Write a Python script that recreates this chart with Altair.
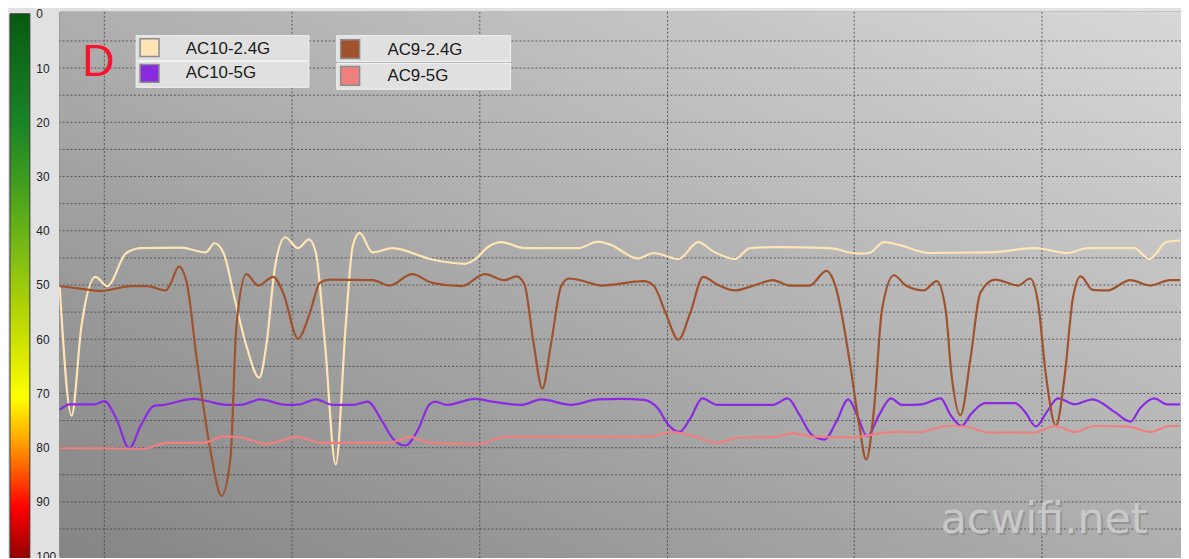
import altair as alt
import pandas as pd

# ---------------- data ----------------
series_names = ["AC10-2.4G", "AC10-5G", "AC9-2.4G", "AC9-5G"]
series_colors = ["#FFE4B5", "#8A2BE2", "#A0522D", "#F08080"]

ac10_24_t = [0, 12, 22, 36, 48, 67, 82, 122, 147, 156, 165, 177, 188, 201, 208, 217, 227, 240, 251, 258,
             267, 278, 288, 295, 302, 315, 335, 375, 408, 418, 432, 445, 468, 522, 542, 555, 582, 598, 623, 643,
             658, 680, 695, 722, 775, 803, 815, 830, 845, 875, 935, 982, 1015, 1035, 1082, 1097, 1115, 1128]
ac10_24_v = [50.2, 74.1, 57.5, 48.5, 50.2, 44.1, 43.2, 43.1, 44, 42.3, 44.1, 53.2, 61.2, 67.1, 61.2, 46.5, 41.2, 43.2, 41.6, 44.1,
             60.5, 83.1, 57.5, 42.9, 40.4, 44, 43.2, 45.3, 46.1, 45.3, 42.9, 42.1, 43.2, 43.2, 42, 42.6, 45.1, 44.1, 45.2, 42.1,
             43.8, 45.2, 43.2, 43, 43.2, 44.2, 44.1, 42.1, 42.6, 44.1, 44, 43.2, 44.1, 43.2, 43.2, 45.2, 42, 41.8]

ac10_5_t = [0, 10, 35, 45, 57, 70, 82, 95, 105, 135, 148, 168, 182, 202, 228, 242, 258, 275, 295, 310,
            325, 335, 348, 360, 372, 378, 390, 418, 435, 465, 485, 515, 542, 565, 588, 602, 613, 624, 635, 647,
            662, 718, 733, 745, 757, 770, 782, 794, 803, 813, 825, 837, 848, 868, 887, 897, 908, 918, 932, 962,
            972, 983, 994, 1005, 1022, 1040, 1062, 1078, 1088, 1102, 1115, 1128]
ac10_5_v = [73, 72, 72, 71.4, 74.6, 80.1, 75.8, 72.3, 72.1, 71, 71.4, 72.1, 72.1, 71.1, 72.1, 72, 71.1, 72.1, 72.1, 71.5,
            75.2, 78.2, 79.6, 77, 72.1, 71.5, 72.1, 71, 71.5, 72.1, 71.1, 72.1, 71.1, 71, 71.2, 72.7, 75.8, 77.1, 74.6, 70.9,
            72.1, 72.1, 70.9, 74, 77.6, 78.5, 75.2, 71.1, 74, 77.9, 74, 70.9, 72.1, 72, 70.9, 74, 76, 73.7, 71.8, 71.8,
            73.4, 76.1, 73.4, 70.9, 72, 71.1, 73.4, 75.2, 72.7, 70.9, 72, 72]

ac9_24_t = [0, 22, 42, 72, 88, 107, 112, 120, 128, 138, 152, 163, 172, 178, 188, 200, 215, 225, 240, 252,
            262, 272, 315, 332, 355, 375, 405, 428, 448, 460, 468, 477, 486, 495, 505, 513, 528, 545, 588, 598,
            610, 623, 635, 648, 662, 680, 702, 718, 735, 755, 772, 782, 795, 805, 812, 820, 828, 840, 852, 870,
            883, 892, 898, 907, 917, 927, 942, 965, 977, 985, 993, 1003, 1012, 1020, 1028, 1040, 1055, 1078, 1098, 1118,
            1128]
ac9_24_v = [50.2, 50.7, 51.1, 50.2, 50.2, 51, 49.6, 46.6, 49.6, 63.6, 80.7, 88.9, 81.9, 57.5, 48, 50.1, 48.5, 51.4, 59.9, 55.1,
            49.6, 49, 49.1, 50.1, 48, 49.6, 50.2, 48, 49.1, 48.4, 49.9, 60.5, 69.1, 60.5, 50.2, 48.8, 49.3, 50.1, 49.3, 50.1,
            55.1, 60.1, 55.1, 48.5, 49.9, 51, 49.9, 49.1, 50.1, 50.1, 47.4, 50.8, 63.6, 75.8, 82.2, 72.7, 54.5, 48.2, 50.1, 51,
            49.3, 54.5, 66.6, 74, 63.6, 51.4, 49, 50.1, 48.8, 53.2, 66.6, 76, 66.6, 52.6, 48.4, 50.9, 51, 49.1, 50.1, 49.1,
            49.1]

ac9_5_t = [0, 45, 85, 108, 145, 165, 182, 208, 240, 262, 285, 332, 353, 372, 422, 448, 565, 595, 615, 638,
           662, 682, 722, 738, 755, 798, 828, 845, 862, 895, 912, 935, 982, 1002, 1022, 1042, 1075, 1098, 1118, 1128]
ac9_5_v = [80.1, 80.1, 80.2, 79.1, 79.1, 77.9, 78.1, 79.3, 78, 79.1, 79.1, 79.1, 78, 79.1, 79.3, 78, 78, 78, 77.1, 77.9,
           79.1, 78.2, 78, 77.3, 77.9, 78.1, 77.3, 77.1, 77.2, 76, 76.1, 77.2, 77.2, 76, 77.1, 76, 76.1, 77.1, 76, 76]

y_ticks = [0, 10, 20, 30, 40, 50, 60, 70, 80, 90, 100]
grid_y = [5, 10, 15, 20, 25, 30, 35, 40, 45, 50, 55, 60, 65, 70, 75, 80, 85, 90, 95]
grid_x = [45, 234, 423, 612, 800, 989]
x_domain = [0, 1129]
y_domain = [-0.37, 100]

# ---------------- build ----------------
rows = []
for name, ts, vs in zip(series_names,
                        [ac10_24_t, ac10_5_t, ac9_24_t, ac9_5_t],
                        [ac10_24_v, ac10_5_v, ac9_24_v, ac9_5_v]):
    for t, v in zip(ts, vs):
        rows.append({"series": name, "t": t, "v": v})
df = pd.DataFrame(rows)

W, H = 1129, 548
xs = alt.Scale(domain=x_domain, nice=False, zero=False)
ys = alt.Scale(domain=y_domain, reverse=True, nice=False, zero=False)
one = pd.DataFrame({"a": [0]})
FONT = "Liberation Sans"

x_axis = alt.Axis(orient="top", labels=False, ticks=False, domain=True,
                  domainColor="#000000", domainWidth=1, grid=False, title=None)
y_axis = alt.Axis(orient="left", values=y_ticks, labelAlign="left", labelPadding=24, ticks=False,
                  tickSize=0, grid=False, domain=True, domainColor="#000000",
                  labelFontSize=12, labelFont=FONT, labelColor="#222222",
                  labelBaseline="middle", title=None)

bg = alt.Chart(one).mark_rect(
    fill=alt.LinearGradient(
        gradient="linear",
        stops=[alt.GradientStop(color="#848484", offset=0),
               alt.GradientStop(color="#aeaeae", offset=0.5),
               alt.GradientStop(color="#d8d8d8", offset=1)],
        x1=0, y1=1, x2=1, y2=0),
    strokeWidth=0,
).encode(x=alt.value(0), x2=alt.value(W), y=alt.value(0), y2=alt.value(H + 10))

hgrid = alt.Chart(pd.DataFrame({"v": grid_y})).mark_rule(
    color="#404040", strokeDash=[2, 2], strokeWidth=1, opacity=0.8
).encode(y=alt.Y("v:Q", scale=ys, axis=y_axis))

vgrid = alt.Chart(pd.DataFrame({"t": grid_x})).mark_rule(
    color="#404040", strokeDash=[2, 2], strokeWidth=1, opacity=0.8
).encode(
    x=alt.X("t:Q", scale=xs, axis=x_axis),
    y=alt.value(0), y2=alt.value(H + 10),
)

lines = alt.Chart(df).mark_line(interpolate="monotone", strokeWidth=2.2).encode(
    x=alt.X("t:Q", scale=xs, axis=x_axis),
    y=alt.Y("v:Q", scale=ys, axis=y_axis),
    color=alt.Color("series:N", scale=alt.Scale(domain=series_names, range=series_colors), legend=None),
)

cbar = alt.Chart(one).mark_rect(
    fill=alt.LinearGradient(
        gradient="linear",
        stops=[alt.GradientStop(color="#075a10", offset=0.0),
               alt.GradientStop(color="#1a8426", offset=0.2),
               alt.GradientStop(color="#3d9b1e", offset=0.3),
               alt.GradientStop(color="#74b816", offset=0.42),
               alt.GradientStop(color="#a8cf08", offset=0.52),
               alt.GradientStop(color="#d8e800", offset=0.62),
               alt.GradientStop(color="#ffff00", offset=0.70),
               alt.GradientStop(color="#ffb000", offset=0.77),
               alt.GradientStop(color="#ff6000", offset=0.83),
               alt.GradientStop(color="#ff0000", offset=0.90),
               alt.GradientStop(color="#8b0000", offset=1.0)],
        x1=0, y1=0, x2=0, y2=1),
    stroke="#333333", strokeWidth=1,
).encode(x=alt.value(-50), x2=alt.value(-30), y=alt.value(2), y2=alt.value(H + 6))

layers = [bg, hgrid, vgrid, lines, cbar]


def box(x0, x1, y0, y1, fill, stroke, sw):
    return alt.Chart(one).mark_rect(fill=fill, stroke=stroke, strokeWidth=sw).encode(
        x=alt.value(x0), x2=alt.value(x1), y=alt.value(y0), y2=alt.value(y1))


def label(txt, x, y, size, color, font=FONT, align="left", baseline="middle", opacity=1.0):
    return alt.Chart(one).mark_text(text=txt, font=font, fontSize=size, color=color, align=align,
                                    baseline=baseline, opacity=opacity).encode(
        x=alt.value(x), y=alt.value(y))


# legend rows
layers += [
    box(77, 251, 24, 49, "#e0e0e0", "#f2f2f2", 1),
    box(77, 251, 50, 76, "#e0e0e0", "#f2f2f2", 1),
    box(279, 454, 24, 50, "#e0e0e0", "#f2f2f2", 1),
    box(279, 454, 52, 78, "#e0e0e0", "#f2f2f2", 1),
    box(81, 100, 27, 45, series_colors[0], "#8c8c8c", 1.5),
    box(81, 100, 53, 71, series_colors[1], "#8c8c8c", 1.5),
    box(283, 302, 28, 47, series_colors[2], "#8c8c8c", 1.5),
    box(283, 302, 55, 74, series_colors[3], "#8c8c8c", 1.5),
    label(series_names[0], 127, 37, 17, "#1a1a1a"),
    label(series_names[1], 127, 62, 17, "#1a1a1a"),
    label(series_names[2], 330, 38, 17, "#1a1a1a"),
    label(series_names[3], 330, 65, 17, "#1a1a1a"),
    label("D", 39, 65, 45, "#f5142d", align="center", baseline="alphabetic"),
    label("acwifi.net", 889, 527, 43, "#7a7a7a", font="DejaVu Sans", baseline="alphabetic", opacity=0.45),
    label("acwifi.net", 887, 525, 43, "#c9c9c9", font="DejaVu Sans", baseline="alphabetic"),
]

chart = alt.layer(*layers).properties(
    width=W, height=H,
    padding={"left": 52, "top": 2, "right": 0, "bottom": 0},
    autosize=alt.AutoSizeParams(type="none"),
    background="#e1e1e1",
).configure_view(strokeWidth=0)

chart.save("out.html", embed_options={"renderer": "svg", "actions": False})
